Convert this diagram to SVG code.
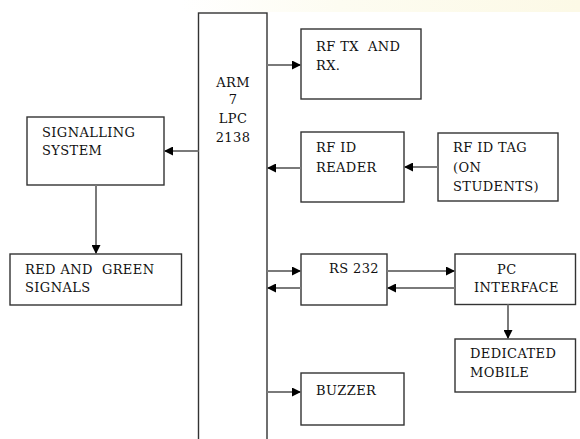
<svg xmlns="http://www.w3.org/2000/svg" width="580" height="439" viewBox="0 0 580 439">
<defs>
<linearGradient id="bg" x1="0" y1="0" x2="1" y2="0">
<stop offset="0" stop-color="#ffffff"/>
<stop offset="0.4" stop-color="#fdfcf1"/>
<stop offset="1" stop-color="#fcf9e6"/>
</linearGradient>
<marker id="ah" viewBox="0 0 10 10" refX="10" refY="5" markerWidth="9" markerHeight="9" markerUnits="userSpaceOnUse" orient="auto">
<path d="M0,0 L10,5 L0,10 z" fill="#000"/>
</marker>
<style>
.box{fill:#fff;stroke:#333;stroke-width:1.4}
.t{font-family:"DejaVu Serif","Liberation Serif",serif;font-size:13px;letter-spacing:0.4px;fill:#111;white-space:pre}
.c{fill:none;stroke:#7a7a7a;stroke-width:2;marker-end:url(#ah)}
</style>
</defs>
<rect width="580" height="439" fill="#fff"/>
<rect x="180" y="0" width="400" height="12" fill="url(#bg)"/>
<g id="arm"><rect class="box" x="198.5" y="13" width="68.5" height="440"/>
<text class="t" text-anchor="middle" x="233" y="87">ARM</text>
<text class="t" text-anchor="middle" x="233" y="104">7</text>
<text class="t" text-anchor="middle" x="233" y="123">LPC</text>
<text class="t" text-anchor="middle" x="233" y="142">2138</text></g>
<g id="signalling"><rect class="box" x="27" y="117" width="137" height="68"/>
<text class="t" x="42" y="137">SIGNALLING</text>
<text class="t" x="42" y="155">SYSTEM</text></g>
<g id="redgreen"><rect class="box" x="10" y="254" width="171.5" height="51"/>
<text class="t" x="25" y="274">RED AND  GREEN</text>
<text class="t" x="25" y="292">SIGNALS</text></g>
<g id="rftx"><rect class="box" x="301" y="29" width="120" height="70"/>
<text class="t" x="316" y="51">RF TX  AND</text>
<text class="t" x="316" y="70">RX.</text></g>
<g id="rfreader"><rect class="box" x="301" y="132" width="103" height="70"/>
<text class="t" x="316" y="152">RF ID</text>
<text class="t" x="316" y="172">READER</text></g>
<g id="rftag"><rect class="box" x="438" y="133" width="120" height="68"/>
<text class="t" x="453" y="152">RF ID TAG</text>
<text class="t" x="453" y="172">(ON</text>
<text class="t" x="453" y="191">STUDENTS)</text></g>
<g id="rs232"><rect class="box" x="301" y="254" width="86" height="51"/>
<text class="t" x="329" y="273">RS 232</text></g>
<g id="pc"><rect class="box" x="455" y="254" width="120.5" height="50.5"/>
<text class="t" x="497" y="274">PC</text>
<text class="t" x="474" y="292">INTERFACE</text></g>
<g id="mobile"><rect class="box" x="455" y="339" width="120.5" height="53"/>
<text class="t" x="470" y="358">DEDICATED</text>
<text class="t" x="470" y="377">MOBILE</text></g>
<g id="buzzer"><rect class="box" x="301" y="373" width="103" height="52"/>
<text class="t" x="316" y="395">BUZZER</text></g>
<g id="connectors">
<path class="c" d="M267,65 H301"/>
<path class="c" d="M198.5,151 H164"/>
<path class="c" d="M96,185 V254"/>
<path class="c" d="M301,168 H267"/>
<path class="c" d="M438,167 H404"/>
<path class="c" d="M267,271 H301"/>
<path class="c" d="M301,288 H267"/>
<path class="c" d="M387,271 H455"/>
<path class="c" d="M455,288 H387"/>
<path class="c" d="M508,304.5 V339"/>
<path class="c" d="M267,392 H301"/>
</g>
</svg>
